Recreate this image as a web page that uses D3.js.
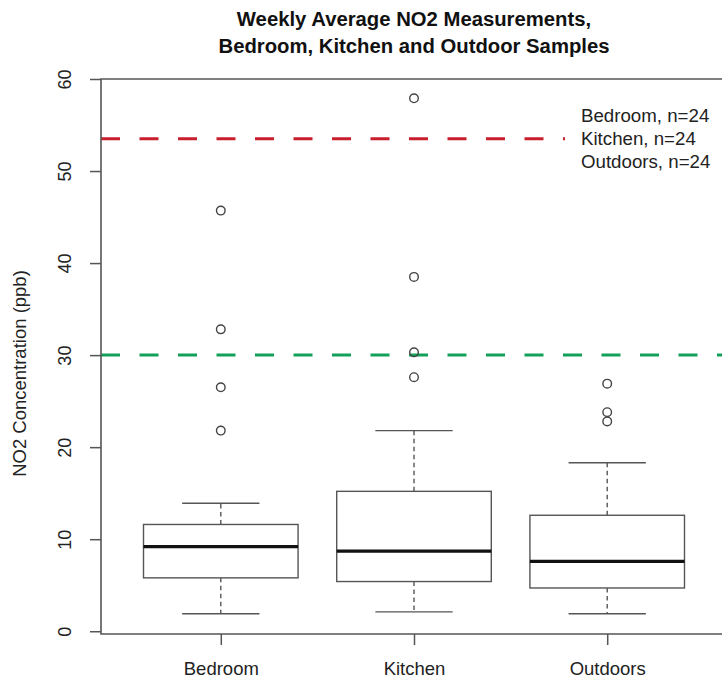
<!DOCTYPE html>
<html>
<head>
<meta charset="utf-8">
<script src="https://cdn.jsdelivr.net/npm/d3@7"></script>
<style>
  html, body { margin: 0; padding: 0; background: #fff; }
  svg { display: block; font-family: "Liberation Sans", Arial, Helvetica, sans-serif; }
</style>
</head>
<body>
<svg id="chart" width="722" height="680"></svg>
<script>
// Boxplot summary statistics per sampling location (ppb)
const categories   = ["Bedroom", "Kitchen", "Outdoors"];
const sampleSizes  = [24, 24, 24];
const whiskerLow   = [1.9, 2.1, 1.9];
const lowerQuart   = [5.8, 5.4, 4.7];
const medians      = [9.2, 8.7, 7.6];
const upperQuart   = [11.6, 15.2, 12.6];
const whiskerHigh  = [13.9, 21.8, 18.3];
const outlierSets  = [
  [45.7, 32.8, 26.5, 21.8],
  [57.9, 38.5, 30.3, 27.6],
  [26.9, 23.8, 22.8]
];
// Reference guideline levels (ppb)
const guideValues  = [53.5, 30];
const guideColors  = ["#c81f2d", "#13a05a"];
const yTicks       = [0, 10, 20, 30, 40, 50, 60];

const svg = d3.select("#chart");

// Plot region
const plot = { left: 101, right: 727, top: 79, bottom: 634 };

const x = d3.scaleLinear().domain([0.38, 3.62]).range([plot.left, plot.right]);
const y = d3.scaleLinear().domain([-0.3, 60]).range([plot.bottom, plot.top]);

const boxHalf = x(1.4) - x(1);      // half of a 0.8-wide box
const capHalf = boxHalf / 2;        // staple half width

const textColor = "#222";
const lineColor = "#555";

// Title
const title = svg.append("g").attr("font-weight", "bold").attr("font-size", 20.3)
  .attr("fill", "#111").attr("text-anchor", "middle");
title.append("text").attr("x", (plot.left + plot.right) / 2).attr("y", 25.5)
  .text("Weekly Average NO2 Measurements,");
title.append("text").attr("x", (plot.left + plot.right) / 2).attr("y", 52.5)
  .text("Bedroom, Kitchen and Outdoor Samples");

// Guideline dashed lines
const guides = guideValues.map((v, i) => ({ v, c: guideColors[i] }));
svg.append("g").selectAll("line").data(guides).join("line")
  .attr("x1", plot.left).attr("x2", plot.right)
  .attr("y1", d => y(d.v)).attr("y2", d => y(d.v))
  .attr("stroke", d => d.c).attr("stroke-width", 3)
  .attr("stroke-dasharray", "19,19.5");

// Boxes
const stats = categories.map((c, i) => ({
  name: c, pos: i + 1,
  lo: whiskerLow[i], q1: lowerQuart[i], med: medians[i], q3: upperQuart[i], hi: whiskerHigh[i],
  out: outlierSets[i]
}));

const g = svg.append("g").selectAll("g").data(stats).join("g");

// whiskers (dashed)
g.append("line")
  .attr("x1", d => x(d.pos)).attr("x2", d => x(d.pos))
  .attr("y1", d => y(d.q3)).attr("y2", d => y(d.hi))
  .attr("stroke", lineColor).attr("stroke-width", 1.4).attr("stroke-dasharray", "4.5,3.5");
g.append("line")
  .attr("x1", d => x(d.pos)).attr("x2", d => x(d.pos))
  .attr("y1", d => y(d.q1)).attr("y2", d => y(d.lo))
  .attr("stroke", lineColor).attr("stroke-width", 1.4).attr("stroke-dasharray", "4.5,3.5");
// staples
g.append("line")
  .attr("x1", d => x(d.pos) - capHalf).attr("x2", d => x(d.pos) + capHalf)
  .attr("y1", d => y(d.hi)).attr("y2", d => y(d.hi))
  .attr("stroke", lineColor).attr("stroke-width", 1.4);
g.append("line")
  .attr("x1", d => x(d.pos) - capHalf).attr("x2", d => x(d.pos) + capHalf)
  .attr("y1", d => y(d.lo)).attr("y2", d => y(d.lo))
  .attr("stroke", lineColor).attr("stroke-width", 1.4);
// box
g.append("rect")
  .attr("x", d => x(d.pos) - boxHalf).attr("width", 2 * boxHalf)
  .attr("y", d => y(d.q3)).attr("height", d => y(d.q1) - y(d.q3))
  .attr("fill", "#fff").attr("stroke", lineColor).attr("stroke-width", 1.4);
// median
g.append("line")
  .attr("x1", d => x(d.pos) - boxHalf).attr("x2", d => x(d.pos) + boxHalf)
  .attr("y1", d => y(d.med)).attr("y2", d => y(d.med))
  .attr("stroke", "#111").attr("stroke-width", 3.2);
// outliers
g.selectAll("circle").data(d => d.out.map(v => ({ v, pos: d.pos }))).join("circle")
  .attr("cx", d => x(d.pos)).attr("cy", d => y(d.v)).attr("r", 4.3)
  .attr("fill", "none").attr("stroke", "#444").attr("stroke-width", 1.4);

// Legend panel (white background hides the guideline behind it)
const legend = svg.append("g");
legend.append("rect").attr("x", 565).attr("y", 96).attr("width", 170).attr("height", 80)
  .attr("fill", "#fff");
legend.selectAll("text").data(categories).join("text")
  .attr("x", 581).attr("y", (d, i) => 122.3 + i * 23)
  .attr("font-size", 18.7).attr("fill", textColor)
  .text((d, i) => `${d}, n=${sampleSizes[i]}`);

// Plot frame: top, left and bottom borders
svg.append("path")
  .attr("d", `M${plot.right + 5},${plot.top}H${plot.left}V${plot.bottom}H${plot.right + 5}`)
  .attr("fill", "none").attr("stroke", lineColor).attr("stroke-width", 1.6);

// Y axis
const yAxis = svg.append("g").attr("transform", `translate(${plot.left},0)`)
  .call(d3.axisLeft(y).tickValues(yTicks).tickSize(11).tickSizeOuter(0).tickFormat(d3.format("d")));
yAxis.select(".domain").remove();
yAxis.selectAll(".tick line").attr("stroke", lineColor).attr("stroke-width", 1.5);
yAxis.selectAll(".tick text").remove();
yAxis.selectAll(".tick").append("text")
  .attr("transform", "translate(-36,0) rotate(-90)")
  .attr("text-anchor", "middle").attr("dy", "0.35em")
  .attr("font-size", 18).attr("fill", textColor)
  .text(d => d);

// X axis
const xAxis = svg.append("g").attr("transform", `translate(0,${plot.bottom})`)
  .call(d3.axisBottom(x).tickValues(stats.map(d => d.pos)).tickSize(11).tickSizeOuter(0)
    .tickFormat((d, i) => categories[i]));
xAxis.select(".domain").remove();
xAxis.selectAll(".tick line").attr("stroke", lineColor).attr("stroke-width", 1.5);
xAxis.selectAll(".tick text").attr("y", 0).attr("dy", 0)
  .attr("transform", "translate(0,41)")
  .attr("font-size", 18.5).attr("fill", textColor).attr("font-family", null);

// Y axis title
svg.append("text")
  .attr("transform", `translate(20,${y(28)}) rotate(-90)`)
  .attr("text-anchor", "middle").attr("dy", "0.35em")
  .attr("font-size", 18.5).attr("fill", textColor)
  .text("NO2 Concentration (ppb)");
</script>
</body>
</html>
